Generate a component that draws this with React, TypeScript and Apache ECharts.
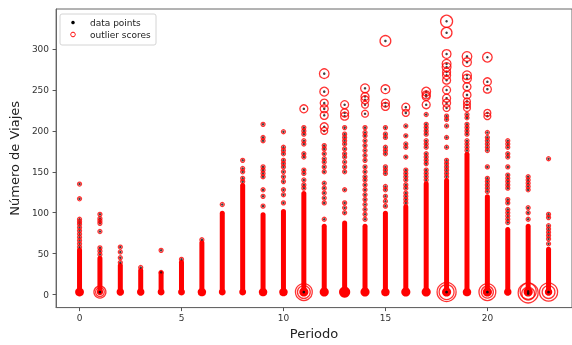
import React, { useEffect, useRef } from 'react';
import * as echarts from 'echarts';

// Hours (Periodo)
const hours = [0, 1, 2, 3, 4, 5, 6, 7, 8, 9, 10, 11, 12, 13, 14, 15, 16, 17, 18, 19, 20, 21, 22, 23];

// Top of the dense (continuous) part of each column, in "Número de Viajes"
const denseTop = [55, 45, 36, 30, 27, 40, 64, 100, 134, 98, 102, 124, 84, 88, 84, 100, 108, 136, 140, 172, 120, 80, 84, 56];

// Outlier score of the dense cluster near zero in each column
const baseScore = [0.3, 0.15, 0.22, 0.22, 0.18, 0.18, 0.28, 0.18, 0.18, 0.28, 0.28, 0.32, 0.32, 0.45, 0.32, 0.28, 0.32, 0.32, 0.32, 0.28, 0.32, 0.22, 0.32, 0.22];

// Sparse points above the dense part (outlier score ~ 0)
const sparseByHour: number[][] = [
  [135, 117, 92, 89, 86, 82, 78, 74, 70, 66, 62, 58],
  [98, 93, 90, 87, 77, 57, 53, 49],
  [58, 52, 45, 39],
  [33],
  [54, 27],
  [43],
  [67],
  [110],
  [164, 154, 150, 142, 138],
  [208, 192, 188, 156, 152, 148, 144, 128, 120, 108],
  [199, 180, 176, 172, 164, 160, 156, 150, 144, 138, 128, 122, 112],
  [204, 200, 196, 188, 184, 172, 168, 152, 148, 140, 134, 130],
  [182, 178, 172, 166, 162, 156, 150, 136, 130, 124, 118, 112, 92],
  [204, 196, 192, 188, 184, 178, 172, 168, 162, 156, 150, 128, 112, 106, 100],
  [204, 198, 194, 188, 182, 176, 170, 164, 156, 150, 144, 140, 134, 128, 122, 116, 110, 104, 98, 92],
  [204, 196, 192, 180, 176, 172, 156, 152, 148, 132, 128, 120, 114, 108],
  [206, 194, 184, 180, 168, 152, 148, 144, 140, 134, 130, 124, 120, 116, 112],
  [220, 208, 204, 200, 196, 188, 184, 180, 172, 168, 164, 160, 152, 148, 144, 140],
  [218, 214, 206, 192, 180, 164, 160, 156, 152, 148, 144],
  [220, 216, 208, 204, 200, 196, 188, 184, 180, 176],
  [198, 192, 188, 184, 180, 176, 156, 142, 138, 134, 130, 126],
  [188, 184, 180, 172, 168, 156, 146, 142, 138, 134, 130, 116, 112, 104, 100, 96, 92, 88],
  [144, 140, 136, 132, 128, 106, 100, 92],
  [166, 98, 94, 84, 80, 76, 72, 68, 62],
];

// Points with a visible outlier score: [value, score]
const ringedByHour: [number, number][][] = [
  [],
  [[3, 0.5], [3, 0.3]],
  [], [], [], [], [], [], [], [], [],
  [[227, 0.25], [3, 0.8], [3, 0.55]],
  [[270, 0.35], [248, 0.3], [234, 0.25], [227, 0.25], [219, 0.25], [205, 0.25], [200, 0.18]],
  [[232, 0.25], [222, 0.25], [218, 0.25]],
  [[252, 0.3], [242, 0.25], [238, 0.25], [232, 0.18], [221, 0.18]],
  [[310, 0.42], [251, 0.3], [234, 0.25], [230, 0.25]],
  [[229, 0.25], [222, 0.18]],
  [[248, 0.3], [244, 0.25], [242, 0.25], [232, 0.25]],
  [[334, 0.5], [320, 0.42], [294, 0.3], [282, 0.3], [278, 0.3], [272, 0.25], [268, 0.25], [262, 0.25], [250, 0.25], [240, 0.25], [234, 0.25], [228, 0.18], [3, 0.94], [3, 0.68]],
  [[291, 0.35], [284, 0.3], [268, 0.3], [264, 0.3], [254, 0.25], [244, 0.25], [236, 0.18], [232, 0.18], [228, 0.18]],
  [[290, 0.35], [260, 0.25], [251, 0.25], [222, 0.18], [218, 0.18], [3, 0.8], [3, 0.5]],
  [],
  [[2, 1.0], [4, 0.75], [1, 0.55]],
  [[3, 0.88], [3, 0.55]],
];

const xTicks = [0, 5, 10, 15, 20];
const yTicks = [0, 50, 100, 150, 200, 250, 300];

const FONT = 'DejaVu Sans';
const sizeOf = (s: number) => 4 + 16 * s;

export default function App() {
  const ref = useRef<HTMLDivElement>(null);
  useEffect(() => {
    const chart = echarts.init(ref.current!, null, { renderer: 'svg' });
    const blackData: number[][] = [];
    const ringData: number[][] = [];
    hours.forEach((h, i) => {
      sparseByHour[i].forEach((v) => {
        blackData.push([h, v]);
        ringData.push([h, v, 0]);
      });
      ringedByHour[i].forEach(([v, s]) => {
        blackData.push([h, v]);
        ringData.push([h, v, s]);
      });
    });
    const bandData = hours.map((h, i) => [h, denseTop[i], baseScore[i]]);

    chart.setOption({
      animation: false,
      grid: { left: 55, right: -3, top: 9, bottom: 32, show: true, borderColor: '#666', borderWidth: 1 },
      xAxis: {
        type: 'value',
        min: -1.15,
        max: 24.15,
        axisLine: { show: true, onZero: false, lineStyle: { color: '#666', width: 1 } },
        axisTick: { show: true, length: 3.5, lineStyle: { color: '#555' }, customValues: xTicks },
        axisLabel: { customValues: xTicks, fontSize: 9, color: '#333', margin: 5.5, fontFamily: FONT },
        splitLine: { show: false },
        name: 'Periodo',
        nameLocation: 'middle',
        nameGap: 18.5,
        nameTextStyle: { fontSize: 13, color: '#222', fontFamily: FONT },
      },
      yAxis: {
        type: 'value',
        min: -16,
        max: 349,
        axisLine: { show: true, onZero: false, lineStyle: { color: '#666', width: 1 } },
        axisTick: { show: true, length: 3.5, lineStyle: { color: '#555' }, customValues: yTicks },
        axisLabel: { customValues: yTicks, fontSize: 9, color: '#333', margin: 7, fontFamily: FONT },
        splitLine: { show: false },
        name: 'Número de Viajes',
        nameLocation: 'middle',
        nameGap: 27,
        nameTextStyle: { fontSize: 13, color: '#222', fontFamily: FONT },
      },
      series: [
        {
          type: 'custom',
          name: 'dense',
          coordinateSystem: 'cartesian2d',
          silent: true,
          z: 1,
          encode: { x: 0, y: 1 },
          data: bandData,
          renderItem: (params: any, api: any) => {
            const x = api.value(0);
            const top = api.value(1);
            const s = api.value(2);
            const base = api.coord([x, 0]);
            const tp = api.coord([x, top]);
            const mid = api.coord([x, 3]);
            return {
              type: 'group',
              children: [
                {
                  type: 'rect',
                  shape: { x: base[0] - 2.5, y: tp[1] - 2, width: 5, height: base[1] - tp[1] + 2, r: 2.5 },
                  style: { fill: '#ff0000' },
                },
                {
                  type: 'circle',
                  shape: { cx: mid[0], cy: mid[1], r: sizeOf(s) / 2 },
                  style: { fill: '#ff0000' },
                },
              ],
            };
          },
        },
        {
          type: 'scatter',
          name: 'data points',
          z: 2,
          symbol: 'circle',
          symbolSize: 2.5,
          itemStyle: { color: '#111' },
          data: blackData,
        },
        {
          type: 'scatter',
          name: 'outlier scores',
          z: 3,
          symbol: 'circle',
          symbolSize: (val: number[]) => sizeOf(val[2]),
          itemStyle: { color: 'rgba(0,0,0,0)', borderColor: '#ff0000', borderWidth: 1.3 },
          data: ringData,
        },
      ],
      graphic: [
        {
          type: 'group',
          z: 100,
          children: [
            {
              type: 'rect',
              shape: { x: 60, y: 14, width: 96, height: 31, r: 2 },
              style: { fill: 'rgba(255,255,255,0.85)', stroke: '#d4d4d4', lineWidth: 1 },
            },
            { type: 'circle', shape: { cx: 73, cy: 22.5, r: 1.8 }, style: { fill: '#000' } },
            {
              type: 'circle',
              shape: { cx: 73, cy: 34.5, r: 2.3 },
              style: { fill: 'none', stroke: '#ff0000', lineWidth: 1 },
            },
            {
              type: 'text',
              x: 90,
              y: 22.5,
              style: { text: 'data points', fontSize: 9, fill: '#222', fontFamily: FONT, verticalAlign: 'middle' },
            },
            {
              type: 'text',
              x: 90,
              y: 34.5,
              style: { text: 'outlier scores', fontSize: 9, fill: '#222', fontFamily: FONT, verticalAlign: 'middle' },
            },
          ],
        },
      ],
    });
    return () => chart.dispose();
  }, []);
  return <div ref={ref} style={{ position: 'fixed', left: 0, top: 0, width: 572, height: 345 }} />;
}
